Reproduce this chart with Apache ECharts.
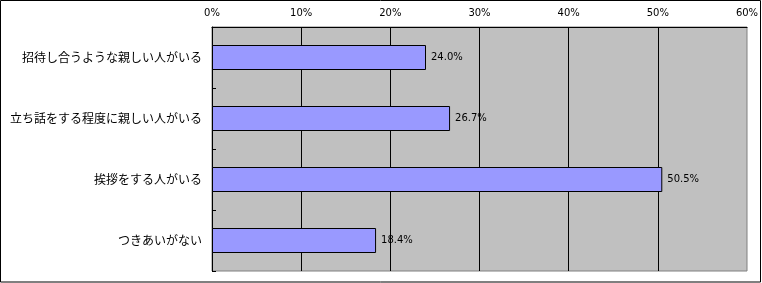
<!DOCTYPE html>
<html><head><meta charset="utf-8">
<script src="https://cdn.jsdelivr.net/npm/echarts@6/dist/echarts.min.js"></script>
<style>html,body{margin:0;padding:0;background:#fff}#c{width:762px;height:283px}</style>
</head><body><div id="c"></div>
<script>
var categories = ['招待し合うような親しい人がいる','立ち話をする程度に親しい人がいる','挨拶をする人がいる','つきあいがない'];
var values = [24.0, 26.7, 50.5, 18.4];
var xTicks = [0, 10, 20, 30, 40, 50, 60];

var chart = echarts.init(document.getElementById('c'), null, {renderer:'canvas'});
chart.setOption({
  animation:false,
  backgroundColor:'#ffffff',
  graphic:[{type:'rect', shape:{x:0.5,y:0.5,width:760,height:281.5}, style:{fill:'none', stroke:'#000', lineWidth:1}, z:100}],
  grid:{left:212, right:15, top:27, bottom:12, show:true, backgroundColor:'#C0C0C0', borderColor:'#808080', borderWidth:1},
  xAxis:{type:'value', position:'top', min:xTicks[0], max:xTicks[xTicks.length-1], interval:10,
    axisLine:{show:true, lineStyle:{color:'#000', width:1}},
    axisTick:{show:false},
    axisLabel:{formatter:'{value}%', color:'#000', fontSize:10, fontFamily:'DejaVu Sans', margin:9},
    splitLine:{show:true, showMinLine:false, showMaxLine:false, lineStyle:{color:'#000', width:1}}
  },
  yAxis:{type:'category', inverse:true, data:categories,
    axisLine:{show:true, lineStyle:{color:'#000', width:1}},
    axisTick:{show:true, inside:true, length:4, alignWithLabel:false, lineStyle:{color:'#000'}},
    axisLabel:{color:'#000', fontSize:12, fontFamily:'Noto Sans CJK JP', margin:10},
    splitLine:{show:false}
  },
  series:[{type:'bar', data:values, barWidth:25,
    itemStyle:{color:'#9999FF', borderColor:'#000', borderWidth:1},
    label:{show:true, position:'right', distance:5, formatter:function(p){return p.value.toFixed(1)+'%';}, color:'#000', fontSize:10, fontFamily:'DejaVu Sans'}
  }]
});
</script></body></html>
